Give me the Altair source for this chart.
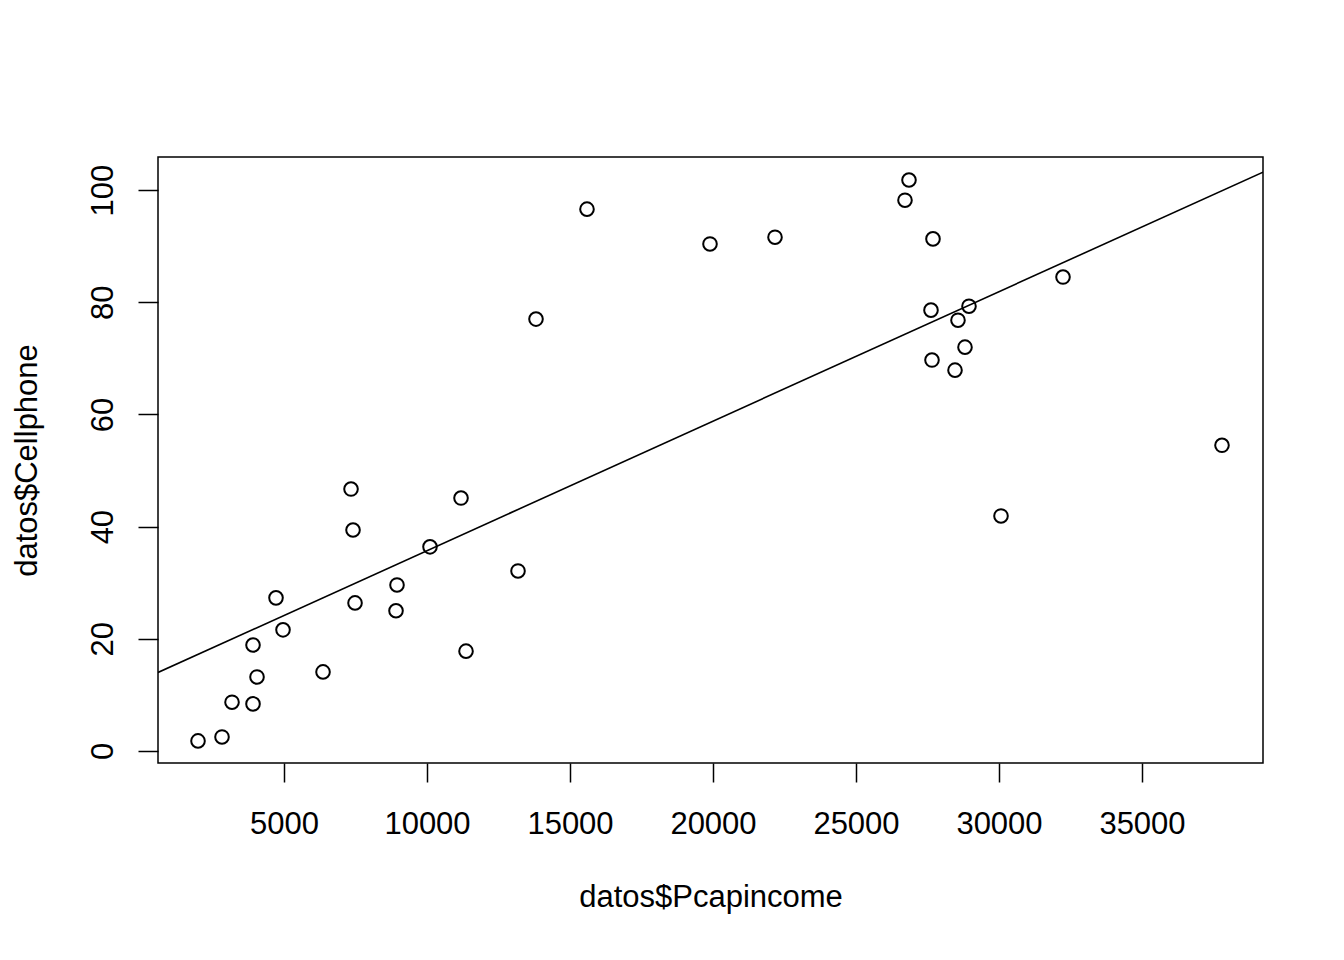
import altair as alt
import pandas as pd

# Data
pcapincome = [1993, 2832, 3182, 3916, 3916, 4056, 4720, 4965, 6364, 7343,
              7413, 7483, 8951, 8916, 10105, 11189, 11364, 13182, 13811, 15594,
              19895, 22168, 26713, 26853, 27692, 27622, 27657, 28462, 28566, 28811,
              28951, 30070, 32238, 37797]
cellphone = [1.8, 2.5, 8.7, 8.4, 18.9, 13.2, 27.3, 21.6, 14.1, 46.7,
             39.4, 26.4, 29.6, 25.0, 36.4, 45.1, 17.8, 32.1, 77.0, 96.6,
             90.4, 91.6, 98.2, 101.8, 91.3, 78.6, 69.7, 67.9, 76.8, 72.0,
             79.3, 41.9, 84.5, 54.5]
x_ticks = [5000, 10000, 15000, 20000, 25000, 30000, 35000]
y_ticks = [0, 20, 40, 60, 80, 100]
X_DOMAIN = [594, 39231]
Y_DOMAIN = [-2.14, 105.9]

df = pd.DataFrame({"Pcapincome": pcapincome, "Cellphone": cellphone})

FONT = "Liberation Sans"
FS = 31

x_enc = alt.X("Pcapincome:Q",
              scale=alt.Scale(domain=X_DOMAIN, nice=False, zero=False),
              axis=alt.Axis(values=x_ticks, format="d", title="datos$Pcapincome", grid=False,
                            domain=False, tickColor="black", tickWidth=1.5, tickSize=19,
                            labelFont=FONT, labelFontSize=FS, labelColor="black",
                            labelBaseline="alphabetic", labelPadding=51,
                            labelFlush=False, labelOverlap=False,
                            titleFont=FONT, titleFontSize=FS, titleColor="black",
                            titleFontWeight="normal", titleBaseline="alphabetic",
                            titleY=143, titleX=552.5, titleAlign="center"))
y_enc = alt.Y("Cellphone:Q",
              scale=alt.Scale(domain=Y_DOMAIN, nice=False, zero=False),
              axis=alt.Axis(values=y_ticks, format="d", title="datos$Cellphone", grid=False,
                            domain=False, tickColor="black", tickWidth=1.5, tickSize=20,
                            labelFont=FONT, labelFontSize=FS, labelColor="black",
                            labelAngle=270, labelAlign="center",
                            labelBaseline="alphabetic", labelPadding=26,
                            labelFlush=False, labelOverlap=False,
                            titleFont=FONT, titleFontSize=FS, titleColor="black",
                            titleFontWeight="normal", titleBaseline="alphabetic",
                            titleAngle=270, titleAlign="center",
                            titleX=-122, titleY=303))

base = alt.Chart(df)

points = base.mark_point(shape="circle", filled=False, color="black",
                         size=185, strokeWidth=2, opacity=1).encode(x=x_enc, y=y_enc)

line = base.transform_regression("Pcapincome", "Cellphone", extent=X_DOMAIN).mark_line(
    color="black", strokeWidth=1.6, clip=True).encode(
    x=alt.X("Pcapincome:Q", scale=alt.Scale(domain=X_DOMAIN, nice=False, zero=False)),
    y=alt.Y("Cellphone:Q", scale=alt.Scale(domain=Y_DOMAIN, nice=False, zero=False)))

chart = alt.layer(points, line).properties(
    width=1105, height=606,
    autosize=alt.AutoSizeParams(type="none"),
    padding={"left": 150, "top": 149, "right": 73, "bottom": 181},
    background="white",
).configure_view(stroke="black", strokeWidth=1.5)

chart.save("out.html", embed_options={"renderer": "svg", "actions": False})
